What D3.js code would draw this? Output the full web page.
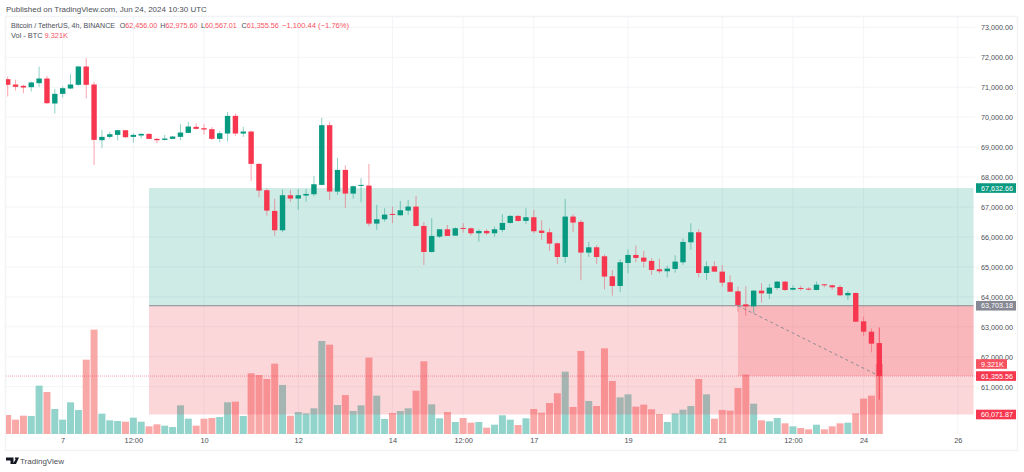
<!DOCTYPE html>
<html>
<head>
<meta charset="utf-8">
<script src="https://cdn.jsdelivr.net/npm/d3@7"></script>
<style>
  html, body { margin: 0; padding: 0; background: #fff; }
  svg text { font-family: "Liberation Sans", Arial, sans-serif; }
</style>
</head>
<body>
<div id="chart"></div>
<script>
// 4h candles

var opens = [71268,71090,71045,71001,71134,71290,70455,70778,70956,71079,71691,71090,69230,69341,69408,69564,69341,69386,69441,69274,
  69241,69275,69342,69475,69676,69631,69598,69275,69453,70043,69453,69520,68440,67560,66869,66223,67393,67281,67382,67426,
  67738,69732,67515,68239,67448,67704,67715,66446,66590,66769,66724,66880,67014,66368,65499,66011,66256,66045,66301,66290,
  66123,66201,66123,66234,66468,66702,66535,66658,66212,66157,65789,65332,66680,66502,65477,65655,65355,64687,64364,65132,
  65399,65310,65199,64920,64854,64932,65154,65822,66156,64797,65020,64842,64485,64185,63750,63683,64207,64107,64296,64508,
  64240,64296,64274,64229,64419,64385,64329,64051,64129,63182,62837,62456];
var highs = [71357,71246,71079,71190,71691,71379,70945,71023,71435,71713,71970,71179,69575,69508,69575,69575,69464,69464,69464,69308,
  69408,69375,69776,69843,69798,69776,69665,69531,70177,70121,69676,69542,68462,67627,67270,67582,67571,67593,67604,68039,
  69977,69843,68640,68384,67715,67960,68439,67069,66958,67014,67203,67236,67370,66501,66624,66256,66401,66323,66457,66312,
  66256,66256,66345,66758,66730,66736,66958,66903,66558,66290,65811,67270,66758,66569,65834,65722,65410,64898,65254,65589,
  65711,65533,65288,65266,65043,65388,65955,66457,66256,65187,65187,65064,64719,64341,64352,64229,64452,64430,64530,64530,
  64385,64363,64318,64508,64430,64407,64396,64196,64140,63338,62948,62975.6];
var lows = [70689,70889,70800,70856,71001,70444,70121,70655,70934,71045,70622,68406,68974,69286,69219,69308,69152,69297,69263,69130,
  69219,69264,69230,69453,69587,69420,69242,69164,69186,69375,69342,67872,67326,66714,66045,66157,67170,66903,67181,67359,
  67727,67237,67404,66969,67281,67158,66357,66234,66513,66457,66713,66735,66346,65065,65477,65967,66034,66034,66145,66056,
  65844,66067,66011,66156,66450,66513,66435,66123,65900,65533,65099,65132,66157,64553,65332,65099,64252,64041,64163,64787,
  65154,64987,64731,64787,64653,64809,65065,65566,64652,64563,64831,64341,64162,63505,63372,63450,63806,63929,64240,64196,
  64218,64207,64218,64218,64318,64240,64029,63895,63160,62692,62147,60567.01];
var closes = [71079,71012,70990,71157,71290,70466,70778,70967,71090,71691,71079,69241,69341,69430,69564,69330,69408,69441,69274,69230,
  69286,69353,69487,69687,69609,69587,69275,69464,70043,69453,69520,68440,67549,66880,66223,67393,67281,67393,67437,67760,
  69732,67515,68239,67448,67693,67738,66446,66590,66746,66735,66891,67014,66368,65499,66034,66256,66034,66290,66279,66123,
  66201,66123,66256,66468,66702,66535,66658,66190,66134,65778,65332,66680,66480,65477,65655,65332,64675,64364,65154,65399,
  65299,65177,64898,64854,64943,65177,65833,66156,64797,65020,64842,64474,64173,63728,63683,64207,64118,64307,64508,64229,
  64296,64263,64240,64407,64385,64318,64051,64129,63171,62837,62436,61355.56];

// volume in thousand BTC
var volumes = [2.53,1.91,2.44,2.40,6.44,5.59,3.33,1.91,4.22,3.20,9.90,13.90,2.71,1.82,1.73,1.64,2.18,1.64,1.02,1.29,
  1.11,0.93,3.82,2.04,1.11,2.04,2.13,2.26,4.22,4.31,2.40,8.08,7.86,7.33,9.37,6.53,2.44,2.93,2.75,3.42,
  12.39,11.90,3.86,5.19,3.06,3.82,10.17,5.11,2.00,2.80,3.06,3.42,5.77,9.68,3.95,2.09,2.93,1.60,2.13,1.51,
  1.60,0.84,1.24,2.49,1.91,1.20,2.09,3.33,2.84,4.13,5.42,8.30,3.60,11.06,4.40,3.73,11.41,7.06,4.88,5.28,
  3.64,3.91,3.29,2.66,1.60,2.75,3.24,3.73,7.33,5.28,2.04,3.20,3.11,6.13,7.90,4.04,1.82,1.69,2.13,1.42,
  1.02,0.80,0.62,1.24,0.62,1.02,1.42,1.51,2.75,4.71,5.11,9.321];

var priceTicks = [73000,72000,71000,70000,69000,68000,67000,66000,65000,64000,63000,62000,61000];
var timeTickBars = [7,16,25,37,49,58,67,79,91,100,109,121];
var timeTickLabels = ["7","12:00","10","12","14","12:00","17","19","21","12:00","24","26"];

// long position drawing
var targetPrice = 67632.66, entryPrice = 63703.18, stopPrice = 60071.87, lastPrice = 61355.56;
var toolStartBar = 18, toolHitBar = 93, toolEndBar = 123, lastBar = 111;

var legendValues = [["O","62,456.00"],["H","62,975.60"],["L","60,567.01"],["C","61,355.56"]];

var width = 1024, height = 472;
var upColor = "#089981", downColor = "#f7374f";
var textColor = "#4d4f57";

var x = d3.scaleLinear().domain([0, 111]).range([7.7, 879.3]);
var y = d3.scaleLinear().domain([73000, 61000]).range([27.3, 386.7]);
var v = d3.scaleLinear().domain([0, 9.321]).range([434, 364]);

var svg = d3.select("#chart").append("svg")
    .attr("width", width)
    .attr("height", height)
    .style("display", "block");

svg.append("clipPath")
  .attr("id", "pane")
  .append("rect")
  .attr("x", 6).attr("y", 17).attr("width", 969).attr("height", 433);

// frame

svg.append("path")
  .attr("d", "M5.5,16.5H1017.5V450.5H5.5Z")
  .attr("fill", "none")
  .attr("stroke", "#f2f3f6")
  .attr("stroke-width", 1.5);

// grid

svg.append("g").selectAll("line")
  .data(priceTicks)
  .enter().append("line")
  .attr("x1", 6).attr("x2", 975)
  .attr("y1", function(d) { return y(d); })
  .attr("y2", function(d) { return y(d); })
  .attr("stroke", "#f3f4f7");

svg.append("g").selectAll("line")
  .data(timeTickBars)
  .enter().append("line")
  .attr("x1", function(d) { return x(d); })
  .attr("x2", function(d) { return x(d); })
  .attr("y1", 17).attr("y2", 434)
  .attr("stroke", "#f3f4f7");

var bars = d3.range(opens.length);
var isUp = function(i) { return closes[i] >= opens[i]; };

// volume

svg.append("g")
  .attr("clip-path", "url(#pane)")
  .selectAll("rect")
  .data(bars)
  .enter().append("rect")
  .attr("x", function(i) { return x(i) - 3.5; })
  .attr("width", 7)
  .attr("y", function(i) { return v(volumes[i]); })
  .attr("height", function(i) { return v(0) - v(volumes[i]); })
  .attr("fill", function(i) { return isUp(i) ? "#92d4cb" : "#f9a8a8"; });

// position tool sits over the volume, under the candles

var tool = svg.append("g");

tool.append("rect")
  .attr("x", x(toolStartBar)).attr("width", x(toolEndBar) - x(toolStartBar))
  .attr("y", y(targetPrice)).attr("height", y(entryPrice) - y(targetPrice))
  .attr("fill", "#089981").attr("fill-opacity", 0.2);

tool.append("rect")
  .attr("x", x(toolStartBar)).attr("width", x(toolEndBar) - x(toolStartBar))
  .attr("y", y(entryPrice)).attr("height", y(stopPrice) - y(entryPrice))
  .attr("fill", "#f23645").attr("fill-opacity", 0.2);

tool.append("rect")
  .attr("x", x(toolHitBar)).attr("width", x(toolEndBar) - x(toolHitBar))
  .attr("y", y(entryPrice)).attr("height", y(lastPrice) - y(entryPrice))
  .attr("fill", "#f23645").attr("fill-opacity", 0.2);

tool.append("line")
  .attr("x1", x(toolStartBar)).attr("x2", x(toolEndBar))
  .attr("y1", y(entryPrice)).attr("y2", y(entryPrice))
  .attr("stroke", "#8a8c93");

tool.append("line")
  .attr("x1", x(toolHitBar)).attr("x2", x(lastBar))
  .attr("y1", y(entryPrice)).attr("y2", y(lastPrice))
  .attr("stroke", "#8a8c93")
  .attr("stroke-dasharray", "3,3");

// last price line

svg.append("line")
  .attr("x1", 6).attr("x2", 975)
  .attr("y1", y(lastPrice)).attr("y2", y(lastPrice))
  .attr("stroke", "#f7374f")
  .attr("stroke-opacity", 0.45)
  .attr("stroke-dasharray", "1,1");

// candles

var candle = svg.append("g")
  .attr("clip-path", "url(#pane)")
  .selectAll("g")
  .data(bars)
  .enter().append("g");

candle.append("line")
  .attr("x1", function(i) { return x(i); })
  .attr("x2", function(i) { return x(i); })
  .attr("y1", function(i) { return y(highs[i]); })
  .attr("y2", function(i) { return y(lows[i]); })
  .attr("stroke", function(i) { return isUp(i) ? upColor : downColor; })
  .attr("stroke-opacity", function(i) { return i == lastBar ? 0.8 : 0.45; });

candle.append("rect")
  .attr("x", function(i) { return x(i) - 2.7; })
  .attr("width", 5.4)
  .attr("y", function(i) { return y(Math.max(opens[i], closes[i])); })
  .attr("height", function(i) { return Math.max(1, Math.abs(y(opens[i]) - y(closes[i]))); })
  .attr("fill", function(i) { return isUp(i) ? upColor : downColor; });

// axes

var priceAxis = d3.axisRight(y)
  .tickValues(priceTicks)
  .tickSize(0)
  .tickPadding(0)
  .tickFormat(d3.format(",.2f"));

var gPrice = svg.append("g")
  .attr("transform", "translate(981,0)")
  .call(priceAxis);
gPrice.select(".domain").remove();
gPrice.selectAll("text").attr("font-size", 7.2).attr("fill", textColor);

var timeAxis = d3.axisBottom(x)
  .tickValues(timeTickBars)
  .tickSize(0)
  .tickPadding(0)
  .tickFormat(function(d, i) { return timeTickLabels[i]; });

var gTime = svg.append("g")
  .attr("transform", "translate(0,438)")
  .call(timeAxis);
gTime.select(".domain").remove();
gTime.selectAll("text").attr("font-size", 7.4).attr("fill", textColor);

// price tags

var tags = [
  {text: d3.format(",.2f")(targetPrice), at: y(targetPrice), fill: "#089981", w: 40},
  {text: d3.format(",.2f")(entryPrice), at: y(entryPrice), fill: "#868993", w: 40},
  {text: "9.321K", at: v(9.321), fill: "#f7525f", w: 31},
  {text: d3.format(",.2f")(lastPrice), at: y(lastPrice), fill: downColor, w: 40},
  {text: d3.format(",.2f")(stopPrice), at: y(stopPrice), fill: downColor, w: 40}
];

var tag = svg.append("g").selectAll("g")
  .data(tags)
  .enter().append("g");

tag.append("rect")
  .attr("x", 976)
  .attr("y", function(d) { return d.at - 4.8; })
  .attr("width", function(d) { return d.w; })
  .attr("height", 9.6)
  .attr("fill", function(d) { return d.fill; });

tag.append("text")
  .attr("x", 981)
  .attr("y", function(d) { return d.at + 2.7; })
  .attr("font-size", 7.2)
  .attr("fill", "#fff")
  .text(function(d) { return d.text; });

// header and legend

svg.append("text")
  .attr("x", 6).attr("y", 11.5)
  .attr("font-size", 8)
  .attr("fill", textColor)
  .text("Published on TradingView.com, Jun 24, 2024 10:30 UTC");

svg.append("text")
  .attr("x", 11).attr("y", 27.5)
  .attr("font-size", 7.4)
  .attr("fill", textColor)
  .attr("textLength", 104)
  .attr("lengthAdjust", "spacingAndGlyphs")
  .text("Bitcoin / TetherUS, 4h, BINANCE");

var legendX = d3.scaleLinear().domain([0, 1]).range([119.7, 160.3]);

legendValues.forEach(function(d, i) {
  var t = svg.append("text")
    .attr("x", legendX(i)).attr("y", 27.5)
    .attr("font-size", 7.2);
  t.append("tspan").attr("fill", textColor).text(d[0]);
  t.append("tspan").attr("fill", "#f7525f").text(d[1]);
});

svg.append("text")
  .attr("x", 282).attr("y", 27.5)
  .attr("font-size", 7.6)
  .attr("fill", "#f7525f")
  .text("\u22121,100.44 (\u22121.76%)");

svg.append("text")
  .attr("x", 11).attr("y", 37.5)
  .attr("font-size", 7.4)
  .attr("fill", textColor)
  .text("Vol - BTC");

svg.append("text")
  .attr("x", 44.5).attr("y", 37.5)
  .attr("font-size", 7.4)
  .attr("fill", "#f7525f")
  .text("9.321K");

// logo

svg.append("path")
  .attr("d", "M6,457.5h7.5v6.5h-3v-3.5H6Z M15,457.5h1.6a1,1 0 1 1 -1.6,0Z M16.5,457.5h2.5l-3,6.5h-3Z")
  .attr("fill", "#131722");

svg.append("text")
  .attr("x", 20).attr("y", 464)
  .attr("font-size", 8)
  .attr("fill", textColor)
  .text("TradingView");
</script>
</body>
</html>
